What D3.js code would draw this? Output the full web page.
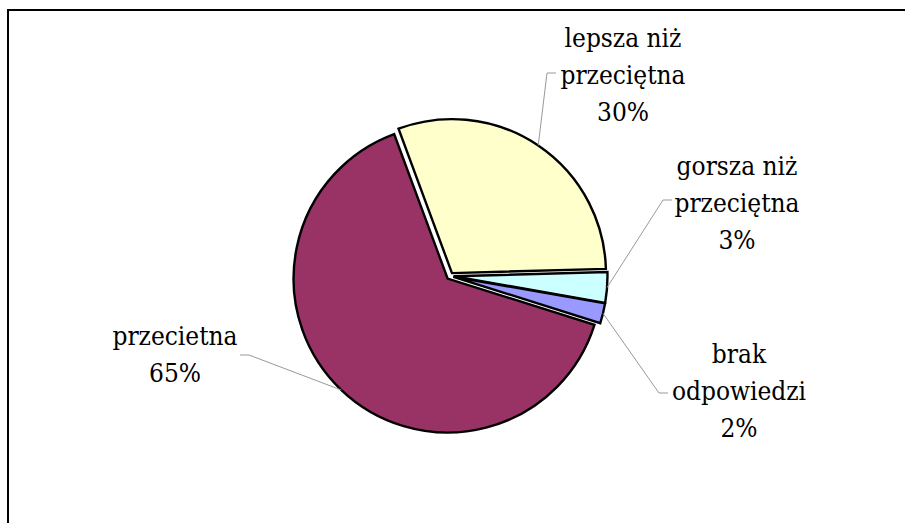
<!DOCTYPE html>
<html>
<head>
<meta charset="utf-8">
<script src="https://cdn.jsdelivr.net/npm/d3@7"></script>
<style>
  body { margin: 0; background: #fff; }
  svg { display: block; }
</style>
</head>
<body>
<div id="chart"></div>
<script>
// answers, in drawing order (clockwise from the start angle)
var categories = ["lepsza niż przeciętna", "gorsza niż przeciętna", "brak odpowiedzi", "przecietna"];
var labelLines = [["lepsza niż", "przeciętna"], ["gorsza niż", "przeciętna"], ["brak", "odpowiedzi"], ["przecietna"]];
var values = [30.2, 3.2, 2.1, 64.5];
var colors = ["#FFFFCC", "#CCFFFF", "#9999FF", "#993366"];

// label placement: centre x, first baseline, leader end (x, y), side of the pie
var labelLayout = [
    {x: 623, y: 47, lx: 556, ly: 73, side: 1},
    {x: 737, y: 175, lx: 672, ly: 200, side: 1},
    {x: 739, y: 363, lx: 668, ly: 393, side: 1},
    {x: 175, y: 345, lx: 240, ly: 355, side: -1}
];

var width = 905, height = 523;
var cx = 450, cy = 276, radius = 154, explode = 3.5;
var startAngle = -20.3 * Math.PI / 180;

var svg = d3.select("#chart")
            .append("svg")
            .attr("width", width)
            .attr("height", height);

// chart area frame (runs off the right and bottom edges)
svg.append("rect")
    .attr("x", 8)
    .attr("y", 10)
    .attr("width", 1000)
    .attr("height", 1000)
    .attr("fill", "none")
    .attr("stroke", "#000")
    .attr("stroke-width", 2);

var pie = d3.pie()
            .sort(null)
            .startAngle(startAngle)
            .endAngle(startAngle + 2 * Math.PI);

var arcs = pie(values);

var arc = d3.arc()
            .innerRadius(0)
            .outerRadius(radius);

function offset(d) {
    var a = (d.startAngle + d.endAngle) / 2;
    return [cx + explode * Math.sin(a), cy - explode * Math.cos(a)];
}

var g = svg.append("g");

g.selectAll("path.slice")
    .data(arcs)
    .enter()
    .append("path")
    .attr("class", "slice")
    .attr("transform", function(d) { var o = offset(d); return "translate(" + o[0] + "," + o[1] + ")"; })
    .attr("d", arc)
    .attr("fill", function(d, i) { return colors[i]; })
    .attr("stroke", "#000")
    .attr("stroke-width", 2.4)
    .attr("stroke-linejoin", "miter");

// leader lines
var total = d3.sum(values);

svg.selectAll("polyline.leader")
    .data(arcs)
    .enter()
    .append("polyline")
    .attr("class", "leader")
    .attr("fill", "none")
    .attr("stroke", "#999")
    .attr("stroke-width", 1)
    .attr("points", function(d, i) {
        var a = (d.startAngle + d.endAngle) / 2;
        var o = offset(d);
        var L = labelLayout[i];
        var ax = o[0] + radius * Math.sin(a), ay = o[1] - radius * Math.cos(a);
        var ex = L.lx - L.side * 9;
        return [[ax, ay], [ex, L.ly], [L.lx, L.ly]].map(function(p) { return p.join(","); }).join(" ");
    });

// labels
var labels = svg.selectAll("text.label")
    .data(arcs)
    .enter()
    .append("text")
    .attr("class", "label")
    .attr("text-anchor", "middle")
    .style("font-family", "'DejaVu Serif Condensed', 'DejaVu Serif'")
    .style("font-stretch", "condensed")
    .style("font-size", "26px")
    .attr("fill", "#000");

labels.each(function(d, i) {
    var t = d3.select(this);
    var L = labelLayout[i];
    var lines = labelLines[i].concat([Math.round(values[i] / total * 100) + "%"]);
    lines.forEach(function(s, k) {
        t.append("tspan")
            .attr("x", L.x)
            .attr("y", L.y + k * 37)
            .text(s);
    });
});
</script>
</body>
</html>
